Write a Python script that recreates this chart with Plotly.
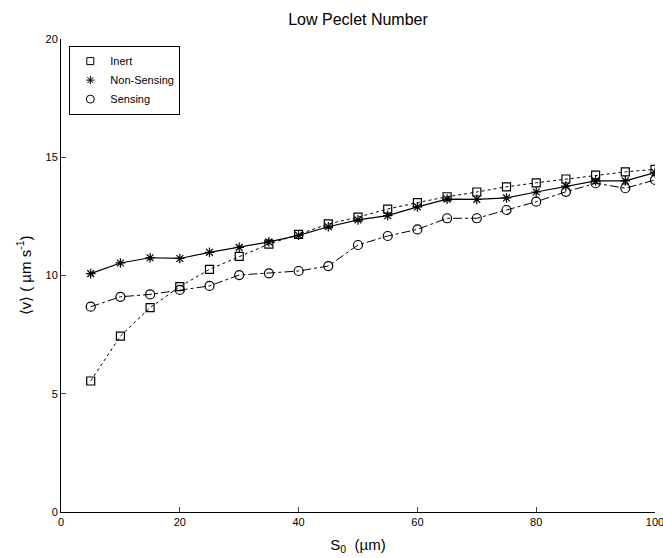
import plotly.graph_objects as go

# Separation distance S0 (µm)
s0 = [5, 10, 15, 20, 25, 30, 35, 40, 45, 50, 55, 60, 65, 70, 75, 80, 85, 90, 95, 100]

# Mean speed <v> (µm/s) for each cell type
inert = [5.54, 7.44, 8.64, 9.53, 10.26, 10.81, 11.33, 11.74, 12.18, 12.47,
         12.81, 13.08, 13.33, 13.53, 13.75, 13.92, 14.08, 14.24, 14.38, 14.49]
non_sensing = [10.08, 10.53, 10.75, 10.72, 10.98, 11.19, 11.42, 11.70, 12.06, 12.35,
               12.53, 12.90, 13.23, 13.22, 13.28, 13.53, 13.78, 14.00, 14.00, 14.35]
sensing = [8.68, 9.10, 9.20, 9.39, 9.56, 10.02, 10.09, 10.19, 10.40, 11.29,
           11.67, 11.95, 12.42, 12.42, 12.77, 13.12, 13.54, 13.90, 13.69, 14.04]

x_ticks = [0, 20, 40, 60, 80, 100]
y_ticks = [0, 5, 10, 15, 20]

FONT = "Liberation Sans, Arial, sans-serif"

series = [
    ("Inert", inert, dict(color="black", width=1, dash="dot"),
     dict(symbol="square-open", size=8)),
    ("Non-Sensing", non_sensing, dict(color="black", width=1.2),
     dict(symbol="asterisk-open", size=8)),
    ("Sensing", sensing, dict(color="black", width=1, dash="dashdot"),
     dict(symbol="circle-open", size=9)),
]

fig = go.Figure()
for name, vals, line, mk in series:
    marker = dict(mk, color="black", line=dict(width=1.2, color="black"))
    fig.add_trace(go.Scatter(x=s0, y=vals, name=name, mode="lines+markers",
                             line=line, marker=marker, showlegend=False))
    # legend key shows the marker only
    fig.add_trace(go.Scatter(x=[None], y=[None], name=name, mode="markers",
                             marker=dict(mk, color="black", size=mk["size"] - 1,
                                         line=dict(width=1, color="black"))))

fig.update_layout(
    width=663, height=558,
    margin=dict(l=61, r=8, t=39, b=46, autoexpand=False),
    paper_bgcolor="white", plot_bgcolor="white",
    font=dict(family=FONT, color="black", size=11),
    title=dict(text="Low Peclet Number", x=0.54, xanchor="center", y=0.975,
               yanchor="top", font=dict(size=16)),
    showlegend=True,
    legend=dict(x=0.014, y=0.986, xanchor="left", yanchor="top",
                bgcolor="white", bordercolor="black", borderwidth=1,
                font=dict(size=11), tracegroupgap=0, itemwidth=30),
    xaxis=dict(range=[0, 100], tickvals=x_ticks, ticks="inside", ticklen=5,
               ticklabeloverflow="allow", automargin=False,
               showline=True, linecolor="black", linewidth=1, mirror=False,
               showgrid=False, zeroline=False,
               title=dict(text="S<sub>0</sub>  (µm)", font=dict(size=15), standoff=12)),
    yaxis=dict(range=[0, 20], tickvals=y_ticks, ticks="inside", ticklen=5,
               automargin=False,
               showline=True, linecolor="black", linewidth=1, mirror=False,
               showgrid=False, zeroline=False,
               title=dict(text="⟨v⟩ ( µm s<sup>-1</sup>)", font=dict(size=15), standoff=10)),
)

fig.write_html("out.html")
